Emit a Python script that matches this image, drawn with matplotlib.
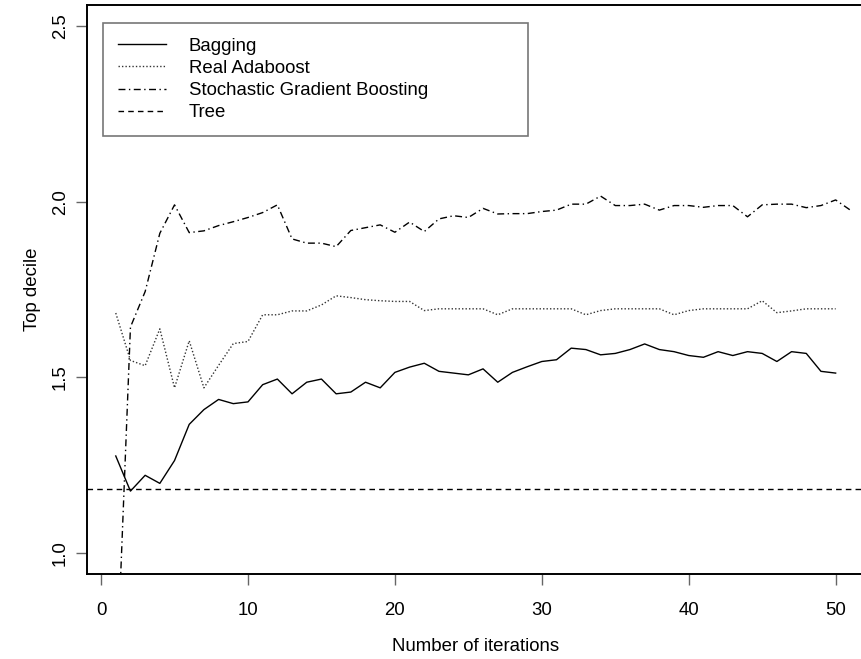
import numpy as np
import matplotlib
matplotlib.use("Agg")
import matplotlib.pyplot as plt

bagging = [1.276, 1.176, 1.221, 1.198, 1.263, 1.366, 1.408, 1.437, 1.425, 1.430,
           1.479, 1.495, 1.453, 1.486, 1.495, 1.453, 1.458, 1.486, 1.470, 1.514,
           1.529, 1.540, 1.517, 1.512, 1.507, 1.524, 1.486, 1.514, 1.530, 1.545,
           1.550, 1.583, 1.579, 1.564, 1.568, 1.579, 1.595, 1.579, 1.573, 1.562,
           1.557, 1.573, 1.562, 1.573, 1.568, 1.545, 1.573, 1.568, 1.517, 1.512]
adaboost = [1.683, 1.548, 1.533, 1.638, 1.470, 1.604, 1.470, 1.534, 1.596, 1.602,
            1.678, 1.678, 1.689, 1.689, 1.706, 1.732, 1.727, 1.721, 1.718, 1.716,
            1.716, 1.690, 1.695, 1.695, 1.695, 1.695, 1.678, 1.695, 1.695, 1.695,
            1.695, 1.695, 1.678, 1.690, 1.695, 1.695, 1.695, 1.695, 1.678, 1.690,
            1.695, 1.695, 1.695, 1.695, 1.718, 1.684, 1.689, 1.695, 1.695, 1.695]
sgb = [0.58, 1.643, 1.744, 1.910, 1.991, 1.912, 1.917, 1.932, 1.943, 1.955,
       1.969, 1.991, 1.894, 1.882, 1.882, 1.872, 1.918, 1.926, 1.934, 1.913,
       1.942, 1.915, 1.951, 1.960, 1.955, 1.981, 1.965, 1.966, 1.966, 1.972,
       1.976, 1.993, 1.993, 2.016, 1.989, 1.989, 1.993, 1.976, 1.989, 1.989,
       1.984, 1.989, 1.989, 1.957, 1.991, 1.993, 1.993, 1.983, 1.989, 2.005,
       1.976]
tree = 1.181

plt.rcParams['font.family'] = ['Liberation Sans', 'DejaVu Sans']

fig = plt.figure(figsize=(8.61, 6.59), dpi=100)
ax = fig.add_axes([0.101, 0.129, 0.903, 0.8634])

ax.plot(np.arange(1, len(bagging) + 1), bagging, color='black', lw=1.0,
        label='Bagging')
ax.plot(np.arange(1, len(adaboost) + 1), adaboost, color='#333333', lw=1.0,
        linestyle=(0, (1, 1.5)), label='Real Adaboost')
ax.plot(np.arange(1, len(sgb) + 1), sgb, color='black', lw=1.0,
        linestyle=(0, (5, 2.5, 1, 2.5)), label='Stochastic Gradient Boosting')
ax.axhline(tree, color='black', lw=1.0, linestyle=(0, (4, 3)), label='Tree')

ax.set_xlim(-0.96, 51.96)
ax.set_ylim(0.94, 2.56)
ax.set_xticks([0, 10, 20, 30, 40, 50])
ax.set_yticks([1.0, 1.5, 2.0, 2.5])
ax.set_yticklabels(['1.0', '1.5', '2.0', '2.5'], rotation=90, va='center')

fs = 13.4
ax.tick_params(axis='both', direction='out', length=8, width=1,
               color='#666666', labelsize=fs)
ax.tick_params(axis='x', pad=12)
ax.tick_params(axis='y', pad=5)
for s in ax.spines.values():
    s.set_linewidth(1.4)

ax.set_xlabel("Number of iterations", fontsize=fs, labelpad=14)
ax.set_ylabel("Top decile", fontsize=fs, labelpad=8)

leg = ax.legend(loc='upper left', bbox_to_anchor=(0.0206, 0.969, 0.547, 0.0),
                mode='expand', fontsize=fs, handlelength=2.6,
                handletextpad=1.2, labelspacing=0.28, borderpad=0.8,
                borderaxespad=0, fancybox=False, frameon=True)
leg.get_frame().set_edgecolor('#555555')
leg.get_frame().set_linewidth(1.2)

fig.savefig("out.png", dpi=100)
